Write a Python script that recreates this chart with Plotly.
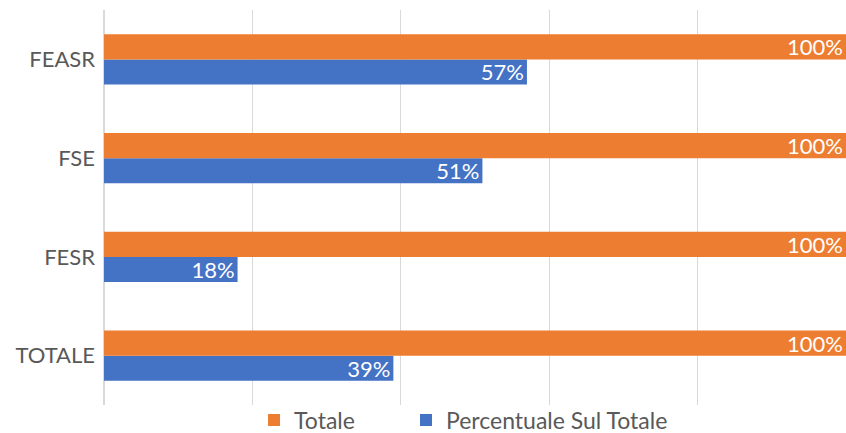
import plotly.graph_objects as go

categories = ["TOTALE", "FESR", "FSE", "FEASR"]
totale = [1.00, 1.00, 1.00, 1.00]
percentuale = [0.39, 0.18, 0.51, 0.57]

FONT = "Lato, Carlito, Calibri, sans-serif"

fig = go.Figure()
fig.add_trace(go.Bar(
    y=categories, x=percentuale, orientation="h", name="Percentuale Sul Totale",
    marker=dict(color="#4472C4", line=dict(width=0)),
    texttemplate="%{x:.0%}", textposition="inside", insidetextanchor="end",
    textfont=dict(color="white", size=22, family=FONT), legend="legend2",
    showlegend=True,
))
fig.add_trace(go.Bar(
    y=categories, x=totale, orientation="h", name="Totale",
    marker=dict(color="#ED7D31", line=dict(width=0)),
    texttemplate="%{x:.0%}", textposition="inside", insidetextanchor="end",
    textfont=dict(color="white", size=22, family=FONT), legend="legend",
    showlegend=True,
))

legend_common = dict(orientation="h", y=-0.038, yanchor="middle", itemwidth=30,
                     font=dict(size=23, color="#595959"), bgcolor="rgba(0,0,0,0)",
                     visible=True)

fig.update_layout(
    width=846, height=433,
    margin=dict(l=104, r=0, t=10, b=28, autoexpand=False),
    showlegend=True,
    barmode="group", bargap=0.49, bargroupgap=0,
    plot_bgcolor="white", paper_bgcolor="white",
    font=dict(family=FONT, size=22, color="#595959"),
    uniformtext=dict(minsize=22, mode="show"),
    legend=dict(x=0.2022, xanchor="left", **legend_common),
    legend2=dict(x=0.407, xanchor="left", **legend_common),
    xaxis=dict(range=[0, 1.0], dtick=0.2, showticklabels=False, showgrid=True,
               gridcolor="#D9D9D9", gridwidth=1, zeroline=True, zerolinecolor="#D9D9D9",
               fixedrange=True),
    yaxis=dict(showgrid=False, ticks="", ticklabelstandoff=8,
               showline=False, tickfont=dict(size=22, color="#595959")),
)

fig.write_html("out.html", config={"displayModeBar": False},
               post_script="document.body.style.margin='0';document.body.style.overflow='hidden';")
